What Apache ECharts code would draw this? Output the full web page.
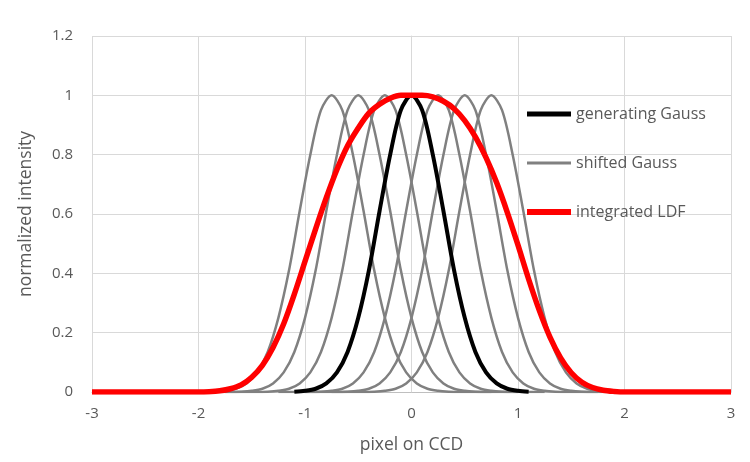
<!DOCTYPE html>
<html>
<head>
<meta charset="utf-8">
<script src="https://cdn.jsdelivr.net/npm/echarts@6/dist/echarts.min.js"></script>
<style>
  html, body { margin: 0; padding: 0; background: #fff; }
  #chart { width: 750px; height: 462px; }
</style>
</head>
<body>
<div id="chart"></div>
<script>
// Generating Gauss profile: offset from its centre and normalized intensity
const gaussOffsets = [-1.5, -1.2, -1.1, -1.0, -0.9, -0.8, -0.7, -0.6, -0.5, -0.4, -0.3, -0.2, -0.1, 0,
                      0.1, 0.2, 0.3, 0.4, 0.5, 0.6, 0.7, 0.8, 0.9, 1.0, 1.1, 1.2, 1.5];
const gaussValues  = [0, 0, 0.001, 0.004, 0.011, 0.029, 0.066, 0.135, 0.25, 0.41, 0.61, 0.80, 0.95, 1,
                      0.95, 0.80, 0.61, 0.41, 0.25, 0.135, 0.066, 0.029, 0.011, 0.004, 0.001, 0, 0];

// Centres of the shifted copies (pixel units)
const shiftCentres = [-0.75, -0.5, -0.25, 0.25, 0.5, 0.75];

// Integrated line distribution function
const ldfX = [-3, -2.0, -1.9, -1.8, -1.7, -1.6, -1.5, -1.4, -1.3, -1.2, -1.1, -1.0, -0.9, -0.8, -0.7,
              -0.6, -0.5, -0.4, -0.3, -0.2, -0.1, 0, 0.1, 0.2, 0.3, 0.4, 0.5, 0.6, 0.7, 0.8, 0.9,
              1.0, 1.1, 1.2, 1.3, 1.4, 1.5, 1.6, 1.7, 1.8, 1.9, 2.0, 3];
const ldfY = [0, 0, 0.001, 0.004, 0.011, 0.024, 0.05, 0.09, 0.15, 0.23, 0.33, 0.44, 0.55, 0.655, 0.75,
              0.83, 0.89, 0.94, 0.97, 0.99, 1.0, 1.0, 1.0, 0.995, 0.98, 0.955, 0.915, 0.86, 0.79, 0.705, 0.605,
              0.495, 0.38, 0.275, 0.185, 0.115, 0.065, 0.033, 0.015, 0.006, 0.002, 0, 0];

const xTicks = [-3, -2, -1, 0, 1, 2, 3];
const yTicks = [0, 0.2, 0.4, 0.6, 0.8, 1, 1.2];

const textColor = '#595959';
const fontFamily = '"Open Sans", "Noto Sans", sans-serif';

function profileAt(centre, reach) {
  const pts = [];
  gaussOffsets.forEach((d, i) => {
    if (Math.abs(d) <= reach) pts.push([centre + d, gaussValues[i]]);
  });
  return pts;
}

const series = [];
shiftCentres.forEach(c => {
  series.push({
    name: 'shifted Gauss', type: 'line', data: profileAt(c, 1.5),
    symbol: 'none', smooth: 0.3,
    lineStyle: { color: '#808080', width: 2.5 },
    itemStyle: { color: '#808080' }, z: 2
  });
});
series.push({
  name: 'generating Gauss', type: 'line', data: profileAt(0, 1.1),
  symbol: 'none', smooth: 0.3,
  lineStyle: { color: '#000000', width: 4 },
  itemStyle: { color: '#000000' }, z: 3
});
series.push({
  name: 'integrated LDF', type: 'line', data: ldfX.map((x, i) => [x, ldfY[i]]),
  symbol: 'none', smooth: 0.3,
  lineStyle: { color: '#ff0000', width: 5.5 },
  itemStyle: { color: '#ff0000' }, z: 4
});

const chart = echarts.init(document.getElementById('chart'), null, { renderer: 'canvas' });
chart.setOption({
  animation: false,
  backgroundColor: '#ffffff',
  textStyle: { fontFamily },
  grid: { left: 92, right: 19, top: 36, bottom: 70, containLabel: false },
  legend: {
    data: [
      { name: 'generating Gauss', lineStyle: { width: 5, color: '#000000' } },
      { name: 'shifted Gauss', lineStyle: { width: 3, color: '#808080' } },
      { name: 'integrated LDF', lineStyle: { width: 6, color: '#ff0000' } }
    ],
    orient: 'vertical', left: 519, top: 101,
    itemWidth: 44, itemHeight: 14, itemGap: 33,
    itemStyle: { opacity: 0 },
    textStyle: { color: textColor, fontSize: 16, fontFamily }
  },
  xAxis: {
    type: 'value', min: xTicks[0], max: xTicks[xTicks.length - 1], interval: 1,
    name: 'pixel on CCD', nameLocation: 'middle', nameGap: 44,
    nameTextStyle: { color: textColor, fontSize: 17.5, fontFamily },
    axisLine: { show: true, onZero: false, lineStyle: { color: '#bfbfbf', width: 1 } },
    axisTick: { show: false },
    axisLabel: { color: textColor, fontSize: 15, margin: 14 },
    splitLine: { show: true, lineStyle: { color: '#d9d9d9', width: 1 } }
  },
  yAxis: {
    type: 'value', min: yTicks[0], max: yTicks[yTicks.length - 1], interval: 0.2,
    name: 'normalized intensity', nameLocation: 'middle', nameGap: 57,
    nameTextStyle: { color: textColor, fontSize: 17.5, fontFamily },
    axisLine: { show: true, lineStyle: { color: '#d9d9d9', width: 1 } },
    axisTick: { show: false },
    axisLabel: { color: textColor, fontSize: 15, margin: 19,
      formatter: v => String(+v.toFixed(1)) },
    splitLine: { show: true, lineStyle: { color: '#d9d9d9', width: 1 } }
  },
  series
});
</script>
</body>
</html>
